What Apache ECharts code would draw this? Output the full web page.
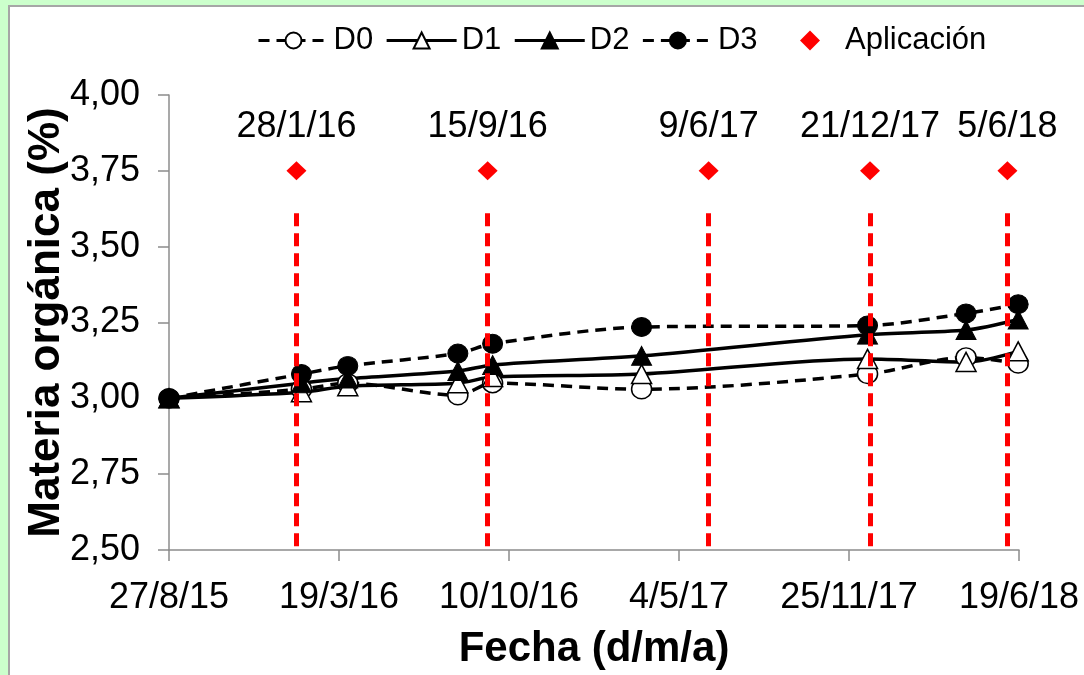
<!DOCTYPE html>
<html>
<head>
<meta charset="utf-8">
<script src="https://cdn.jsdelivr.net/npm/echarts@6/dist/echarts.min.js"></script>
<style>
html,body{margin:0;padding:0;background:#CCFFCC;}
#c{width:1084px;height:675px;}
</style>
</head>
<body>
<div id="c"></div>
<script>
// ---- data ----
const sampleDates = ['27/8/15','3/2/16','30/3/16','10/8/16','21/9/16','20/3/17','18/12/17','16/4/18','18/6/18'];
const D0 = [3.00, 3.03, 3.05, 3.01, 3.05, 3.03, 3.08, 3.135, 3.115];
const D1 = [3.00, 3.02, 3.04, 3.05, 3.07, 3.08, 3.13, 3.12, 3.155];
const D2 = [3.00, 3.05, 3.065, 3.09, 3.11, 3.14, 3.21, 3.225, 3.26];
const D3 = [3.00, 3.08, 3.107, 3.148, 3.18, 3.235, 3.24, 3.28, 3.31];
const applicationDates = ['28/1/16','15/9/16','9/6/17','21/12/17','5/6/18'];
const applicationLevel = 3.75;
const applicationLineTop = 3.61;
const xAxisStart = '27/8/15';
const xAxisEnd = '19/6/18';
const xTickSteps = 5;
const yMin = 2.5, yMax = 4.0, yStep = 0.25;

// ---- helpers ----
function toUTC(s){ const p = s.split('/'); return Date.UTC(2000 + +p[2], +p[1]-1, +p[0]); }
const base = toUTC(xAxisStart);
function toDays(s){ return Math.round((toUTC(s) - base) / 86400000); }
function fmtDate(days){
  const d = new Date(base + Math.floor(days + 1e-6) * 86400000);
  return d.getUTCDate() + '/' + (d.getUTCMonth()+1) + '/' + String(d.getUTCFullYear()).slice(2);
}
const xs = sampleDates.map(toDays);
const xMax = toDays(xAxisEnd);
const pairs = arr => arr.map((v,i) => [xs[i], v]);
const appDays = applicationDates.map(toDays);

const FONT = 'Liberation Sans, Arial, sans-serif';

const chart = echarts.init(document.getElementById('c'), null, {renderer:'canvas'});
const lineBase = {
  type:'line', smooth:0.3,
  emphasis:{disabled:true}
};
chart.setOption({
  animation:false,
  backgroundColor:'transparent',
  graphic:[{type:'rect', z:-10, shape:{x:9, y:6, width:1090, height:680},
    style:{fill:'#fff', stroke:'#A6A6A6', lineWidth:2}}],
  grid:{left:169, right:65, top:95, bottom:124},
  legend:[{
    top:20, left:252, itemWidth:70, itemHeight:20, itemGap:12,
    lineStyle:{width:3},
    textStyle:{fontFamily:FONT, fontSize:31, color:'#000'},
    data:['D0','D1','D2','D3']
  },{
    top:20, left:795, itemWidth:20, itemHeight:20,
    textStyle:{fontFamily:FONT, fontSize:31, color:'#000', padding:[0,0,0,20]},
    data:[{name:'Aplicación', icon:'path://M10,0 L20,10 L10,20 L0,10 Z', itemStyle:{color:'#FF0000', opacity:1}}]
  }],
  xAxis:{
    type:'value', min:0, max:xMax, interval:xMax/xTickSteps,
    name:'Fecha (d/m/a)', nameLocation:'middle', nameGap:78, nameMoveOverlap:false,
    nameTextStyle:{fontFamily:FONT, fontSize:42, fontWeight:'bold', color:'#000'},
    axisLine:{show:true, lineStyle:{color:'#8C8C8C', width:1.5}},
    axisTick:{show:true, length:11, lineStyle:{color:'#8C8C8C', width:1.5}},
    splitLine:{show:false},
    axisLabel:{fontFamily:FONT, fontSize:36, color:'#000', margin:30, showMaxLabel:true, showMinLabel:true,
      formatter:v => fmtDate(v)}
  },
  yAxis:{
    type:'value', min:yMin, max:yMax, interval:yStep,
    name:'Materia orgánica (%)', nameLocation:'middle', nameGap:100, nameMoveOverlap:false,
    nameTextStyle:{fontFamily:FONT, fontSize:44, fontWeight:'bold', color:'#000'},
    axisLine:{show:true, lineStyle:{color:'#8C8C8C', width:1.5}},
    axisTick:{show:true, inside:false, length:11, lineStyle:{color:'#8C8C8C', width:1.5}},
    splitLine:{show:false},
    axisLabel:{fontFamily:FONT, fontSize:36, color:'#000', margin:29,
      formatter:v => v.toFixed(2).replace('.', ',')}
  },
  series:[
    Object.assign({}, lineBase, {name:'D0', data:pairs(D0), symbol:'circle', symbolSize:[20,19],
      lineStyle:{color:'#000', width:3.5, type:[11,7]},
      itemStyle:{color:'#fff', borderColor:'#000', borderWidth:1.5}}),
    Object.assign({}, lineBase, {name:'D1', data:pairs(D1), symbol:'triangle', symbolSize:[20,19],
      lineStyle:{color:'#000', width:3.5, type:'solid'},
      itemStyle:{color:'#fff', borderColor:'#000', borderWidth:1.5}}),
    Object.assign({}, lineBase, {name:'D2', data:pairs(D2), symbol:'triangle', symbolSize:[20,19],
      lineStyle:{color:'#000', width:3.5, type:'solid'},
      itemStyle:{color:'#000', borderColor:'#000', borderWidth:1}}),
    Object.assign({}, lineBase, {name:'D3', data:pairs(D3), symbol:'circle', symbolSize:[20,19],
      lineStyle:{color:'#000', width:3.5, type:[11,7]},
      itemStyle:{color:'#000', borderColor:'#000', borderWidth:1}}),
    {
      name:'Aplicación', type:'scatter', symbol:'diamond', symbolSize:[20,19], z:5,
      itemStyle:{color:'#FF0000', opacity:1},
      emphasis:{disabled:true},
      label:{show:true, position:'top', distance:16, formatter:'{b}',
        fontFamily:FONT, fontSize:36, color:'#000', opacity:1},
      data: appDays.map((d,i) => ({name:applicationDates[i], value:[d, applicationLevel]})),
      markLine:{
        silent:true, symbol:'none', animation:false, z:6,
        label:{show:false},
        lineStyle:{color:'#FF0000', width:5, type:[13,7], opacity:1},
        data: appDays.map(d => [{coord:[d, applicationLineTop]}, {coord:[d, yMin]}])
      }
    }
  ]
});
</script>
</body>
</html>
